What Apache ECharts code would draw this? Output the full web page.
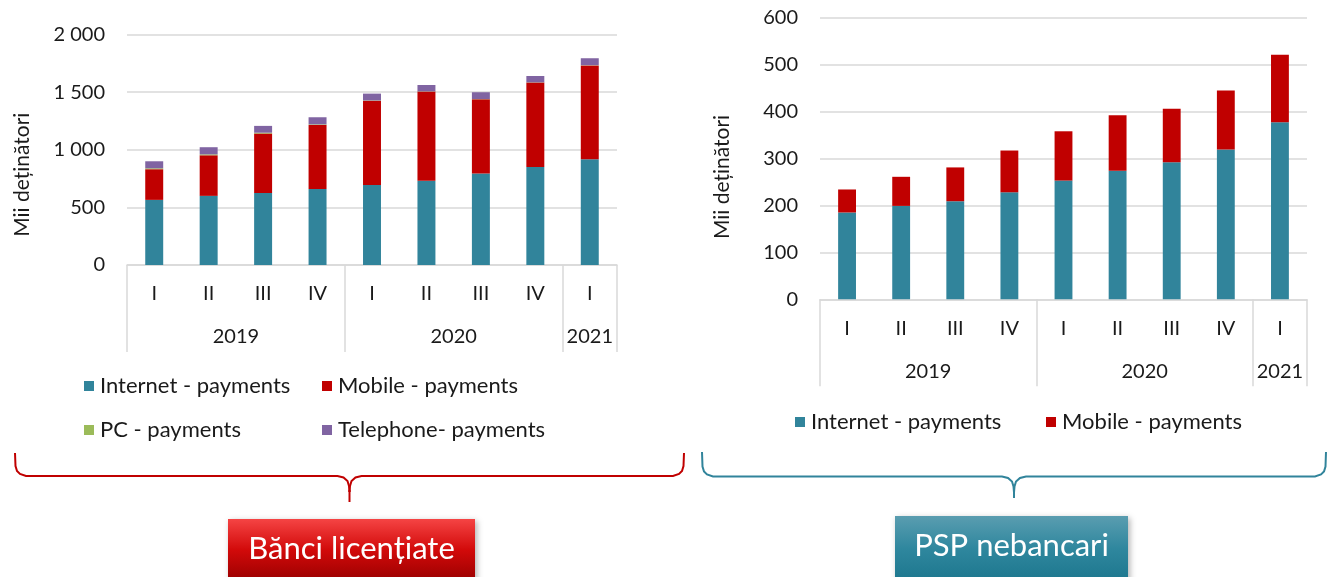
<!DOCTYPE html>
<html>
<head>
<meta charset="utf-8">
<script src="https://cdn.jsdelivr.net/npm/echarts@6/dist/echarts.min.js"></script>
<style>
html, body { margin: 0; padding: 0; background: #fff; }
#chart { width: 1330px; height: 577px; }
</style>
</head>
<body>
<div id="chart"></div>
<script>
// quarters, with the years grouped under them
var quarters = ['I', 'II', 'III', 'IV', 'I', 'II', 'III', 'IV', 'I'];
var years = ['2019', '2020', '2021'];
var yearSpans = [4, 4, 1];

// licensed banks (thousand holders)
var bankInternet = [565, 600, 625, 660, 695, 730, 793, 850, 917];
var bankMobile = [266, 352, 515, 555, 730, 775, 645, 733, 815];
var bankPC = [8, 8, 8, 5, 3, 2, 2, 2, 2];
var bankPhone = [61, 62, 59, 62, 59, 55, 59, 55, 60];

// non-bank PSPs (thousand holders)
var pspInternet = [185, 199, 209, 228, 253, 274, 292, 319, 377];
var pspMobile = [49, 62, 72, 89, 105, 118, 114, 126, 144];

var FONT = 'Lato';
var TXT = '#1a1a1a';
var GRID_GRAY = '#d9d9d9';

// group boundaries + label slots for the year row (half-category steps)
var groupStarts = [];
var yearSlots = [];
for (var i = 0; i <= quarters.length * 2; i++) yearSlots.push('');
var start = 0;
years.forEach(function (y, k) {
  groupStarts.push(start);
  yearSlots[start * 2 + yearSpans[k]] = y;
  start += yearSpans[k];
});

function quarterAxis(gridIndex) {
  return {
    type: 'category',
    gridIndex: gridIndex,
    data: quarters,
    axisLine: { lineStyle: { color: GRID_GRAY, width: 1.5 } },
    axisTick: {
      show: true,
      length: 87,
      interval: function (idx) { return groupStarts.indexOf(idx) >= 0; },
      lineStyle: { color: GRID_GRAY, width: 1.5 }
    },
    axisLabel: { interval: 0, fontSize: 20, margin: 19, color: TXT, fontFamily: FONT }
  };
}

function yearAxis(gridIndex) {
  return {
    type: 'category',
    gridIndex: gridIndex,
    position: 'bottom',
    offset: 42,
    boundaryGap: false,
    data: yearSlots.map(function (s, idx) { return String(idx); }),
    axisLine: { show: false },
    axisTick: { show: false },
    axisLabel: {
      interval: 0, fontSize: 20, margin: 20, color: TXT, fontFamily: FONT,
      formatter: function (v, idx) { return yearSlots[idx]; }
    }
  };
}

function valueAxis(gridIndex, max, step, nameShift) {
  return {
    type: 'value',
    gridIndex: gridIndex,
    min: 0,
    max: max,
    interval: step,
    name: 'Mii deținători',
    nameLocation: 'middle',
    nameGap: gridIndex === 0 ? 94 : 87,
    nameTextStyle: { fontSize: 21, color: TXT, fontFamily: FONT, padding: [0, nameShift, 0, 0] },
    axisLine: { show: false },
    axisTick: { show: false },
    splitLine: { lineStyle: { color: GRID_GRAY, width: 1.5 } },
    axisLabel: {
      fontSize: 20, margin: 22, color: TXT, fontFamily: FONT,
      formatter: function (v) { return String(v).replace(/\B(?=(\d{3})+(?!\d))/g, ' '); }
    }
  };
}

function bar(name, data, color, xi, yi, stack) {
  return {
    name: name, type: 'bar', stack: stack, data: data,
    xAxisIndex: xi, yAxisIndex: yi, barWidth: '33%',
    itemStyle: { color: color }
  };
}

// one legend per entry so the columns line up like the original
function legend(name, left, top) {
  return {
    data: [name], left: left, top: top, padding: 0,
    icon: 'rect', itemWidth: 10, itemHeight: 10, itemGap: 6,
    selectedMode: false,
    textStyle: { fontSize: 22, color: TXT, fontFamily: FONT, padding: [0, 0, 0, 1] }
  };
}

// curly brace below each chart, built from straight pieces
function brace(x1, x2, yTop, yMid, yTip, color) {
  var xc = (x1 + x2) / 2;
  function half(xe, dir) {
    return [
      [xe, yTop], [xe + dir * 0.5, yMid - 10], [xe + dir * 2, yMid - 5], [xe + dir * 5, yMid - 2], [xe + dir * 11, yMid],
      [xc - dir * 12, yMid], [xc - dir * 6, yMid + 1.5], [xc - dir * 2, yMid + 5], [xc - dir * 0.5, yMid + 10], [xc, yMid + 16]
    ];
  }
  var style = { stroke: color, lineWidth: 2, fill: null };
  return [
    { type: 'polyline', shape: { points: half(x1, 1) }, style: style },
    { type: 'polyline', shape: { points: half(x2, -1) }, style: style },
    { type: 'line', shape: { x1: xc, y1: yMid + 14, x2: xc, y2: yTip }, style: style }
  ];
}

function labelBox(x, y, w, h, text, top, mid, bottom) {
  return {
    type: 'group',
    children: [
      {
        type: 'rect', shape: { x: x, y: y, width: w, height: h },
        style: {
          fill: new echarts.graphic.LinearGradient(0, 0, 0, 1, [
            { offset: 0, color: top }, { offset: 0.5, color: mid }, { offset: 1, color: bottom }
          ]),
          shadowBlur: 6, shadowOffsetX: 2, shadowOffsetY: 2, shadowColor: 'rgba(0,0,0,0.3)'
        }
      },
      {
        type: 'text', x: x + w / 2, y: y + 30,
        style: { text: text, fill: '#fff', fontSize: 31, fontFamily: FONT, align: 'center', verticalAlign: 'middle' }
      }
    ]
  };
}

var chart = echarts.init(document.getElementById('chart'));
chart.setOption({
  animation: false,
  grid: [
    { left: 127, top: 34.5, width: 490, height: 230.5 },
    { left: 820, top: 17.7, width: 487, height: 281.6 }
  ],
  xAxis: [quarterAxis(0), yearAxis(0), quarterAxis(1), yearAxis(1)],
  yAxis: [valueAxis(0, 2000, 500, 50), valueAxis(1, 600, 100, 37)],
  legend: [
    legend('Internet - payments', 84, 375),
    legend('Mobile - payments', 322, 375),
    legend('PC - payments', 84, 419),
    legend('Telephone- payments', 322, 419),
    legend('Internet - payments', 795, 411),
    legend('Mobile - payments', 1046, 411)
  ],
  series: [
    bar('Internet - payments', bankInternet, '#31849B', 0, 0, 'bank'),
    bar('Mobile - payments', bankMobile, '#C00000', 0, 0, 'bank'),
    bar('PC - payments', bankPC, '#9BBB59', 0, 0, 'bank'),
    bar('Telephone- payments', bankPhone, '#8064A2', 0, 0, 'bank'),
    bar('Internet - payments', pspInternet, '#31849B', 2, 1, 'psp'),
    bar('Mobile - payments', pspMobile, '#C00000', 2, 1, 'psp')
  ],
  graphic: [].concat(
    brace(15, 684, 453, 476, 502, '#C00000'),
    brace(702, 1326, 452, 476.5, 498, '#31849B'),
    [
      labelBox(228, 519, 247, 62, 'Bănci licențiate', '#f54444', '#d20a0a', '#9a0000'),
      labelBox(895, 516, 233, 65, 'PSP nebancari', '#5a9db0', '#2f879e', '#1d778e')
    ]
  )
});
</script>
</body>
</html>
